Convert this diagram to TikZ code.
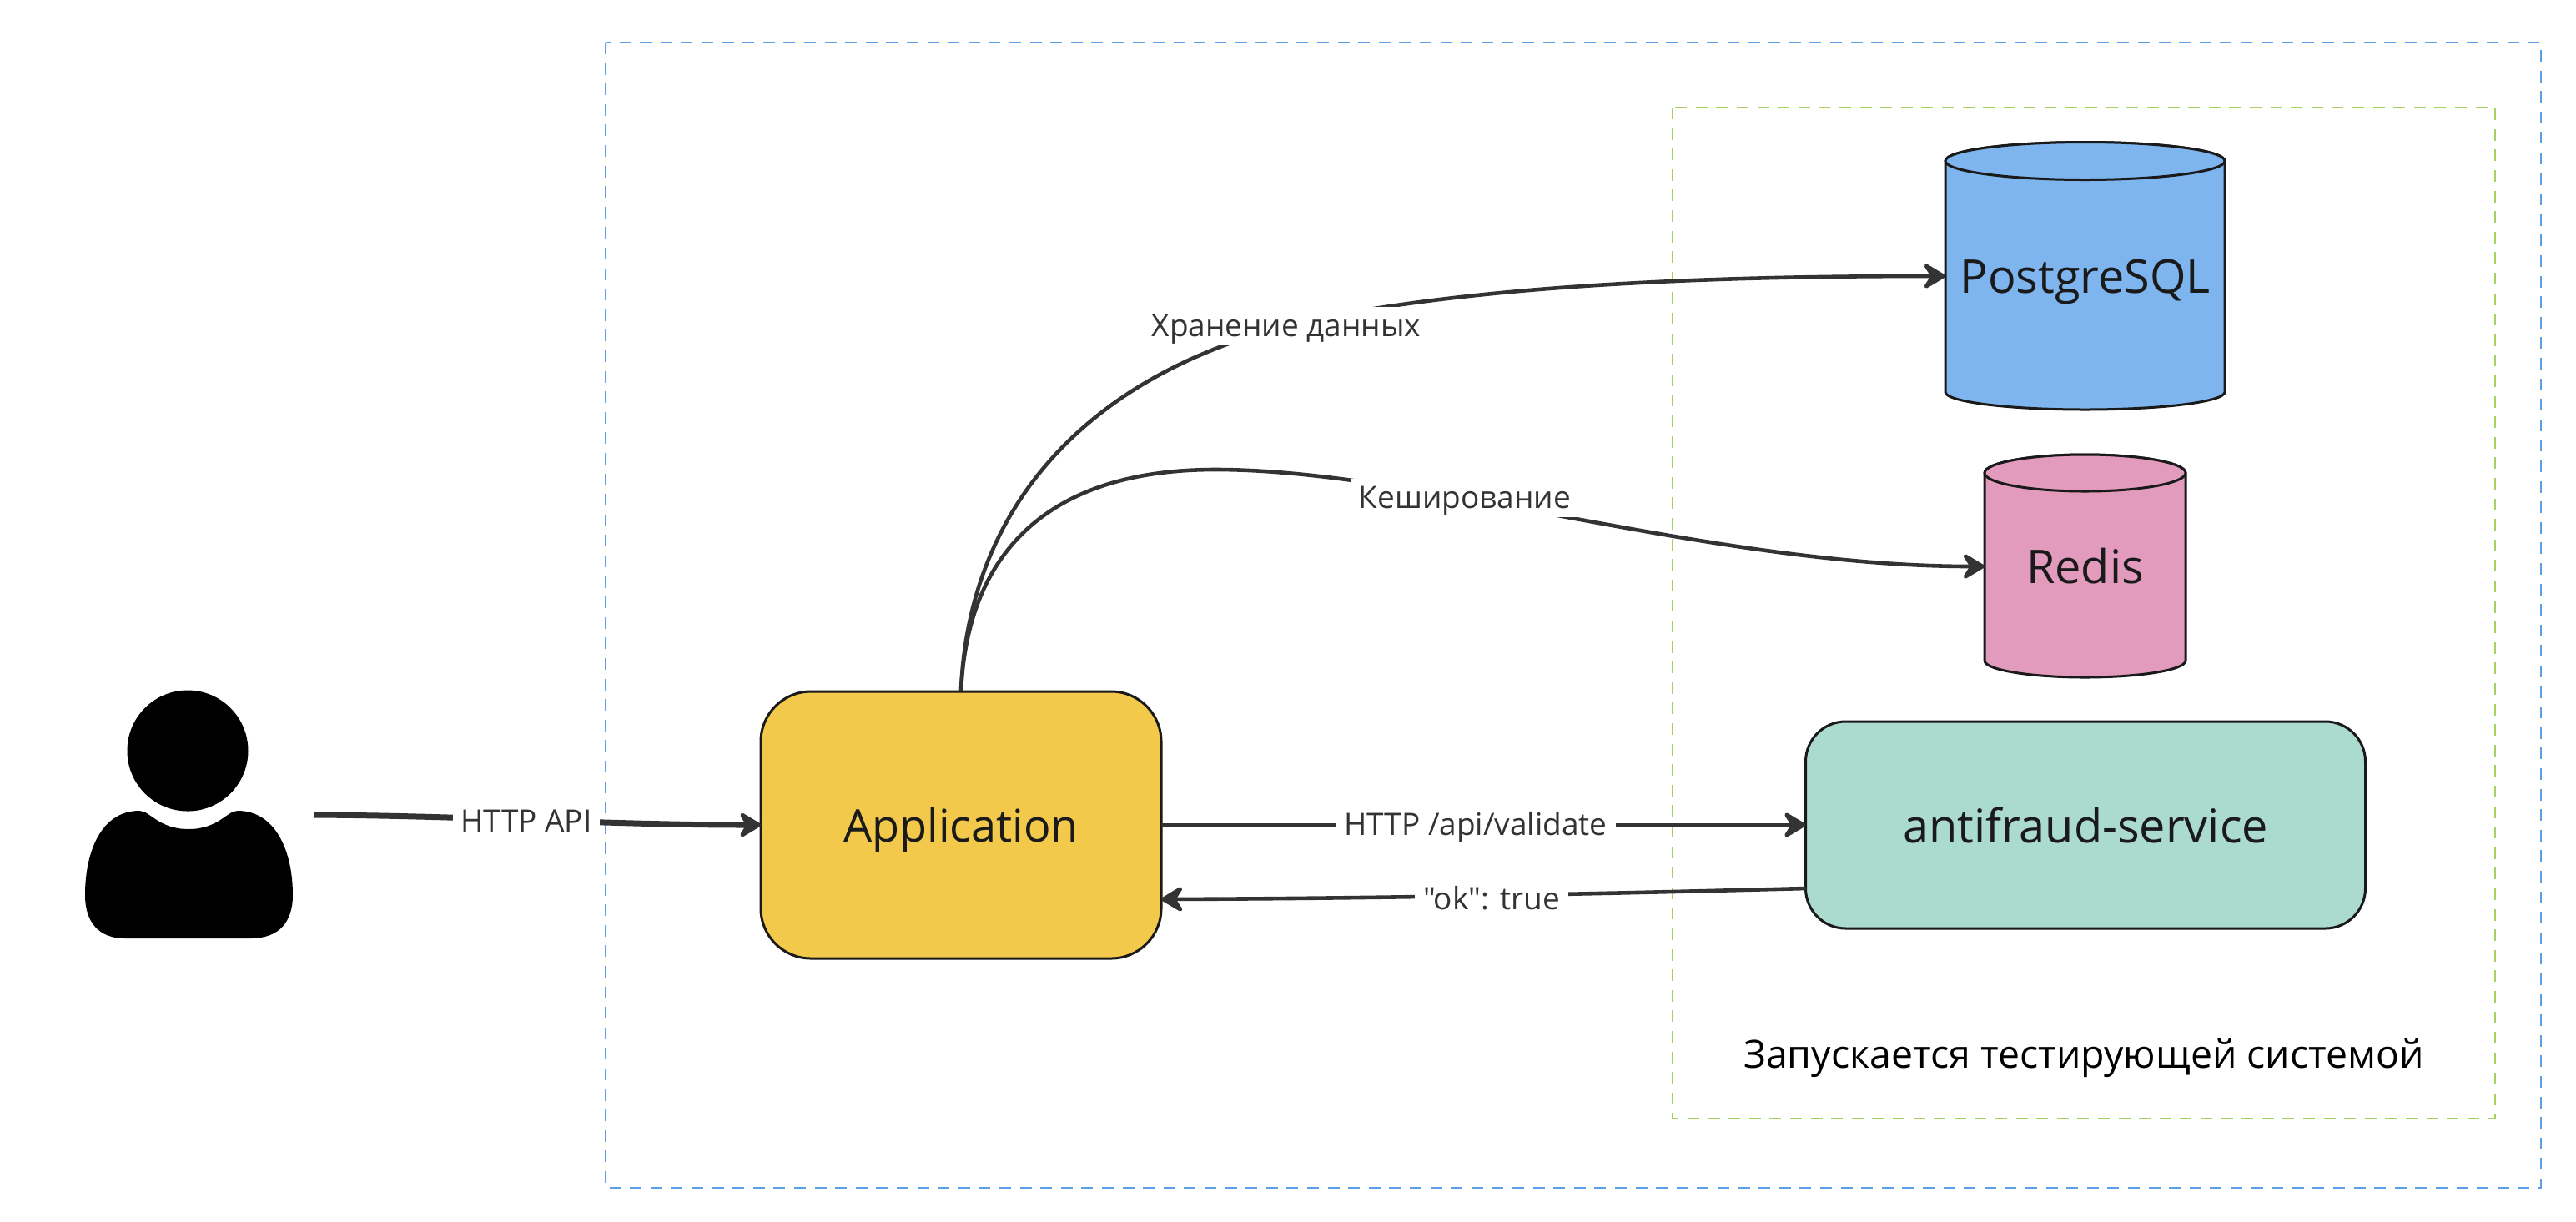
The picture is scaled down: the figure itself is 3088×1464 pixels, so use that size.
\documentclass[tikz,border=0pt]{standalone}
\usepackage{fontspec}
\newfontfamily\opensans{Open Sans}
\usetikzlibrary{arrows.meta}
\definecolor{framec}{HTML}{5B9FE6}
\definecolor{testc}{HTML}{A3D162}
\definecolor{linec}{HTML}{333333}
\definecolor{inkc}{HTML}{1A1A1A}
\definecolor{appc}{HTML}{F2C94A}
\definecolor{pgc}{HTML}{7EB5EE}
\definecolor{redisc}{HTML}{E29ABD}
\definecolor{afc}{HTML}{ABDACE}
\tikzset{
  x=0.5pt,y=-0.5pt,
  framebox/.style={line width=1.4pt,dash pattern=on 7pt off 5.3pt},
  conn/.style={draw=linec,line width=2.3pt,-{Stealth[length=16pt,width=19pt,inset=6pt,round]}},
  edgelabel/.style={fill=white,text=linec,font=\opensans\fontsize{18.5}{22}\selectfont,inner xsep=5pt,inner ysep=0pt,minimum height=23pt,outer sep=0pt},
  lowlabel/.style={text height=16pt,text depth=3.2pt},
  service/.style={draw=inkc,line width=1.5pt,text=inkc,outer sep=0pt,inner sep=0pt},
  cyl/.style={fill=#1,draw=inkc,line width=1.5pt,line join=round},
  cyltext/.style={text=inkc,font=\opensans\fontsize{27.9}{32}\selectfont,outer sep=0pt,inner sep=0pt},
}
\begin{document}
\begin{tikzpicture}
\useasboundingbox (0,0) rectangle (3088,1464);
\fill[white] (0,0) rectangle (3088,1464);
% frames
\draw[framebox,draw=framec] (726,51) rectangle (3046,1424);
\draw[framebox,draw=testc] (2005,129) rectangle (2991,1341);
% user
\fill[black] (225,900) circle[radius=36.25pt];
\fill[black] (167,972) .. controls (180,972) and (190,994) .. (226,994)
  .. controls (262,994) and (272,972) .. (285,972)
  .. controls (330,972) and (351,1020) .. (351,1073)
  .. controls (351,1105) and (335,1125) .. (300,1125)
  -- (150,1125) .. controls (118,1125) and (102,1105) .. (102,1073)
  .. controls (102,1020) and (122,972) .. (167,972) -- cycle;
\coordinate (userout) at (376,977);
% services
\node[service,fill=appc,rounded corners=30pt,minimum width=240pt,minimum height=160pt,font=\opensans\fontsize{27}{32}\selectfont,text height=25pt,text depth=5pt] (app) at (1152,989) {Application};
\node[service,fill=afc,rounded corners=24pt,minimum width=335.5pt,minimum height=124pt,font=\opensans\fontsize{27.9}{32}\selectfont] (af) at (2500,989) {antifraud-service};
% cylinders
\draw[cyl=pgc] (2332,193) -- (2332,470) arc[start angle=180,end angle=360,x radius=83.75pt,y radius=10.5pt] -- (2667,193) arc[start angle=0,end angle=180,x radius=83.75pt,y radius=11.25pt] -- cycle;
\draw[cyl=pgc] (2499.5,193) ellipse[x radius=83.75pt,y radius=11.25pt];
\node[cyltext,minimum width=167.5pt,minimum height=160pt,text height=25.5pt,text depth=5.5pt] (pg) at (2499.5,331) {PostgreSQL};
\draw[cyl=redisc] (2379,567) -- (2379,792) arc[start angle=180,end angle=360,x radius=60.25pt,y radius=10pt] -- (2620,567) arc[start angle=0,end angle=180,x radius=60.25pt,y radius=11pt] -- cycle;
\draw[cyl=redisc] (2499.5,567) ellipse[x radius=60.25pt,y radius=11pt];
\node[cyltext,minimum width=120.5pt,minimum height=133.5pt] (redis) at (2499.5,679) {Redis};
% connectors
\coordinate (okout) at (2165,1065);
\coordinate (okin) at (1392,1078);
\draw[conn,line width=3.5pt] (userout) .. controls (560,978) and (730,989) .. (app.west);
\draw[conn] (app.north) .. controls (1160,620) and (1290,450) .. (1560,386) .. controls (1750,346) and (2000,331) .. (pg.west);
\draw[conn] (app.north) .. controls (1160,650) and (1270,563) .. (1457,563) .. controls (1700,563) and (2050,679) .. (redis.west);
\draw[conn] (app.east) -- (af.west);
\draw[conn] (okout) .. controls (1900,1072) and (1650,1077) .. (okin);
% labels
\node[edgelabel] (l1) at (631,984) {HTTP API};
\node[edgelabel,lowlabel] (l2) at (1542,391) {Хранение данных};
\node[edgelabel,lowlabel] (l3) at (1756,597) {Кеширование};
\node[edgelabel,lowlabel] (l4) at (1769,989) {HTTP /api/validate};
\node[edgelabel] (l5) at (1788,1077) {"ok": true};
\node[text=black,font=\opensans\fontsize{23.2}{28}\selectfont,inner sep=0pt] (note) at (2498,1269) {Запускается тестирующей системой};
\end{tikzpicture}
\end{document}
